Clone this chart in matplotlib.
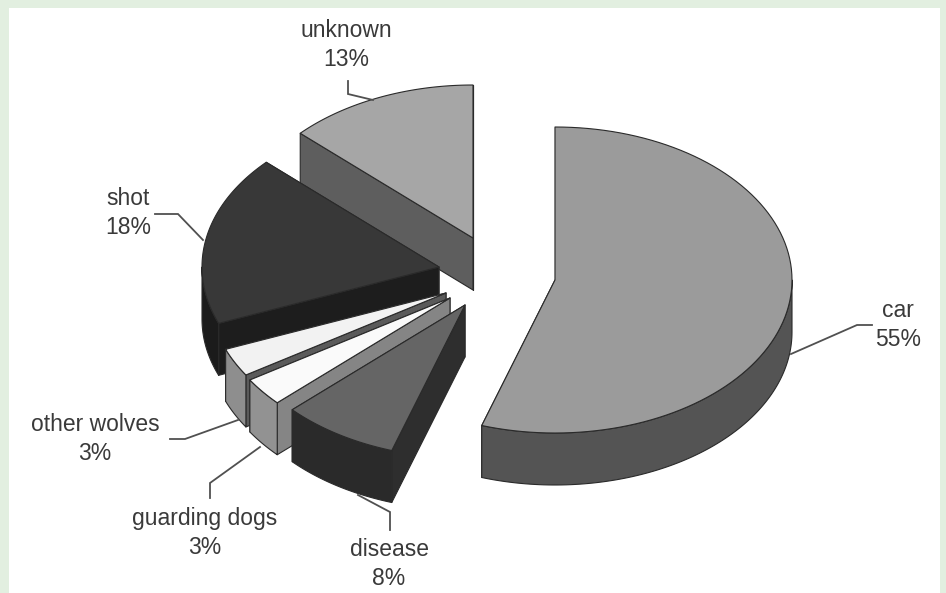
import numpy as np
import matplotlib
matplotlib.use("Agg")
import matplotlib.pyplot as plt
from matplotlib.patches import Polygon, Rectangle

plt.rcParams['font.family'] = ['Liberation Sans', 'DejaVu Sans']

# Data (clockwise from 12 o'clock)
categories = ["car", "disease", "guarding dogs", "other wolves", "shot", "unknown"]
shares = [55, 8, 3, 3, 18, 13]
share_labels = ["55%", "8%", "3%", "3%", "18%", "13%"]

# Styling and layout (pixel coordinates of the reference)
top_colors = ["#9b9b9b", "#656565", "#fafafa", "#f2f2f2", "#383838", "#a6a6a6"]
outer_colors = ["#545454", "#2a2a2a", "#929292", "#8e8e8e", "#1b1b1b", "#5e5e5e"]
radial_colors = ["#545454", "#2e2e2e", "#858585", "#5a5a5a", "#1d1d1d", "#5e5e5e"]
apexes = [(555, 280), (465, 305), (450, 298), (446, 293), (439, 267), (473, 238)]
RX, RY, DEPTH = 237, 153, 52
draw_order = [5, 4, 3, 2, 1, 0]

label_xy = [(898, 325), (389, 564), (205, 533), (95, 439), (128, 213), (346, 45)]
leaders = [
    [(791, 354), (857, 325), (872, 325)],
    [(358, 495), (390, 512), (390, 530)],
    [(260, 447), (210, 483), (210, 498)],
    [(238, 420), (185, 439), (170, 439)],
    [(203, 240), (178, 214), (155, 214)],
    [(373, 100), (348, 94), (348, 81)],
]

fig = plt.figure(figsize=(9.46, 5.93), dpi=100, facecolor="#e2efe0")
ax = fig.add_axes([0, 0, 1, 1])
ax.set_xlim(0, 946)
ax.set_ylim(593, 0)
ax.axis("off")
ax.add_patch(Rectangle((9, 8), 931, 590, facecolor="white", edgecolor="none", zorder=0))

edges = np.cumsum([0] + shares) / sum(shares) * 2 * np.pi


def rim(apex, angles):
    return np.column_stack([apex[0] + RX * np.sin(angles), apex[1] - RY * np.cos(angles)])


edge_kw = dict(edgecolor="#2a2a2a", linewidth=0.8, joinstyle="round")
z = 1
for i in draw_order:
    apex = np.array(apexes[i], float)
    a0, a1 = edges[i], edges[i + 1]
    angles = np.linspace(a0, a1, 100)
    arc = rim(apex, angles)
    down = np.array([0, DEPTH])
    # radial walls
    for a in (a1, a0):
        p = rim(apex, np.array([a]))[0]
        ax.add_patch(Polygon([apex, p, p + down, apex + down], closed=True,
                             facecolor=radial_colors[i], zorder=z, **edge_kw))
    # outer wall (front half only)
    lo, hi = max(a0, np.pi / 2), min(a1, 3 * np.pi / 2)
    if hi > lo:
        front = rim(apex, np.linspace(lo, hi, 100))
        ax.add_patch(Polygon(np.vstack([front, (front + down)[::-1]]), closed=True,
                             facecolor=outer_colors[i], zorder=z + 0.1, **edge_kw))
    # top face
    ax.add_patch(Polygon(np.vstack([apex, arc]), closed=True,
                         facecolor=top_colors[i], zorder=z + 0.2, **edge_kw))
    z += 1

for pts in leaders:
    xs, ys = zip(*pts)
    ax.plot(xs, ys, color="#505050", lw=1.3, zorder=20, solid_joinstyle="miter")

for name, lab, (x, y) in zip(categories, share_labels, label_xy):
    ax.text(x, y, f"{name}\n{lab}", ha="center", va="center", fontsize=16.5,
            color="#3a3a3a", linespacing=1.37, zorder=21)

fig.savefig("out.png", dpi=100, facecolor=fig.get_facecolor())
